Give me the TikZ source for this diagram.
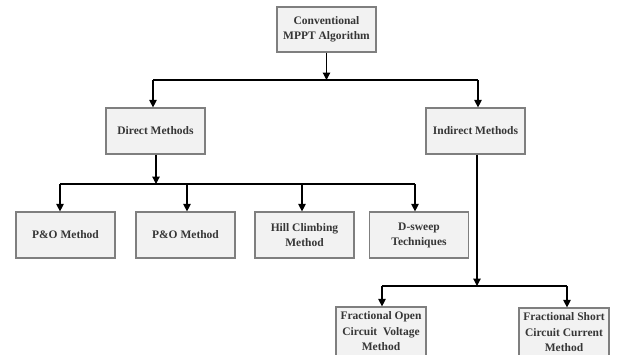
\documentclass[tikz,border=0pt]{standalone}
\usepackage{fontspec}
\setmainfont{Liberation Serif}
\usetikzlibrary{arrows.meta}
\definecolor{boxfill}{HTML}{F2F2F2}
\definecolor{boxline}{HTML}{7F7F7F}
\definecolor{boxtext}{HTML}{363636}
\begin{document}
\begin{tikzpicture}[x=1pt,y=-1pt,
  box/.style={draw=boxline, fill=boxfill, line width=1.2pt, inner sep=0pt,
    minimum width=99pt, minimum height=46pt, align=center, text=boxtext,
    font=\fontsize{11.5}{15}\selectfont\bfseries},
  lowbox/.style={box, minimum width=90pt, minimum height=49pt,
    font=\fontsize{11.5}{15.5}\selectfont\bfseries},
  link/.style={line width=1.2pt, black},
  arr/.style={link, -{Triangle[width=7.5pt,length=7.5pt]}}]
\clip (0,0) rectangle (622,354);
\fill[white] (0,0) rectangle (622,354);

% root
\node[box, minimum height=45pt] (root) at (326.5,29.5) {Conventional\\MPPT Algorithm};

% second level
\node[box] (direct) at (155.5,131) {Direct Methods};
\node[box] (indirect) at (475.5,131) {Indirect Methods};

% direct methods
\node[box] (po1) at (65.5,235) {P\&O Method};
\node[box] (po2) at (185.5,235) {P\&O Method};
\node[box] (hill) at (304.5,235) {Hill Climbing\\Method};
\node[box] (dsw) at (419,235) {D-sweep\\Techniques};

% indirect methods
\node[lowbox] (foc) at (381,331.5) {Fractional Open\\Circuit\ \ Voltage\\Method};
\node[lowbox] (fsc) at (564,332.5) {Fractional Short\\Circuit Current\\Method};

% root to second level
\coordinate (r0) at (326.5,80);
\coordinate (rl) at (153,80);
\coordinate (rr) at (478,80);
\draw[arr] (root.south) -- (r0);
\draw[link] (rl) -- (rr);
\draw[arr] (rl) -- (rl |- direct.north);
\draw[arr] (rr) -- (rr |- indirect.north);

% direct methods branch
\coordinate (d0) at (156,184);
\coordinate (d1) at (60,184);
\coordinate (d2) at (187,184);
\coordinate (d3) at (302,184);
\coordinate (d4) at (415,184);
\draw[arr] (d0 |- direct.south) -- (d0);
\draw[link] (d1) -- (d4);
\draw[arr] (d1) -- (d1 |- po1.north);
\draw[arr] (d2) -- (d2 |- po2.north);
\draw[arr] (d3) -- (d3 |- hill.north);
\draw[arr] (d4) -- (d4 |- dsw.north);

% indirect methods branch
\coordinate (i0) at (477,286);
\coordinate (i1) at (382,286);
\coordinate (i2) at (567,286);
\draw[arr] (i0 |- indirect.south) -- (i0);
\draw[link] (i1) -- (i2);
\draw[arr] (i1) -- (i1 |- foc.north);
\draw[arr] (i2) -- (i2 |- fsc.north);
\end{tikzpicture}
\end{document}
